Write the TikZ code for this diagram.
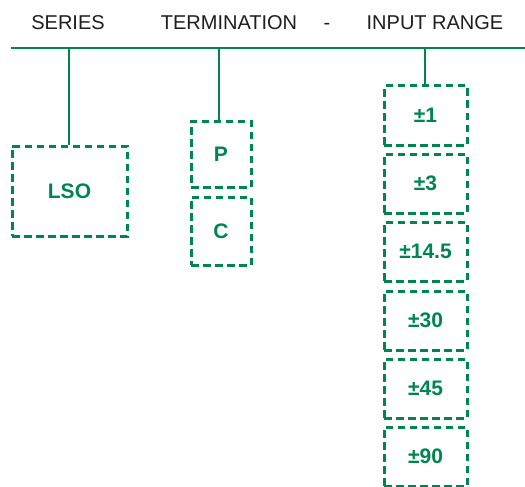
\documentclass[tikz,border=0pt]{standalone}
\usepackage{fontspec}
\setmainfont{Liberation Sans}
\definecolor{grn}{RGB}{0,133,82}
\definecolor{ink}{RGB}{30,30,30}
\begin{document}
\begin{tikzpicture}[x=1pt,y=-1pt,
  head/.style={text=ink,font=\fontsize{20}{22}\selectfont,inner sep=0pt,anchor=base},
  optbox/.style={draw=grn,line width=3pt,dash pattern=on 7.5pt off 4.5pt,text=grn,
    font=\bfseries\fontsize{21}{24}\selectfont,inner sep=0pt,minimum width=#1,rectangle},
  conn/.style={draw=grn,line width=2.6pt}]
\useasboundingbox (0,0) rectangle (525,487);
% headings
\node[head] (hs) at (68,29.5) {SERIES};
\node[head] (ht) at (229,29.5) {TERMINATION};
\node[head] (hd) at (327,29.5) {-};
\node[head] (hi) at (435,29.5) {INPUT RANGE};
% header rule
\coordinate (rl) at (11,48);
\coordinate (rr) at (525,48);
\draw[conn] (rl) -- (rr);
% series
\node[optbox=115pt,minimum height=90pt] (lso) at (69.5,191) {LSO};
% termination
\node[optbox=60pt,minimum height=66pt] (p) at (221,154) {P};
\node[optbox=60pt,minimum height=68pt] (c) at (221,231) {C};
% input range
\foreach \n/\t/\y in {r1/±1/115.5, r3/±3/183.5, r14/±14.5/251.5, r30/±30/320.5, r45/±45/388.5, r90/±90/456.5}{
  \node[optbox=83pt,minimum height=59pt] (\n) at (425.5,\y) {\t};
}
% connectors
\coordinate (c1) at (69,48);
\coordinate (c2) at (219,48);
\coordinate (c3) at (425,48);
\draw[conn] (c1) -- (c1 |- lso.north);
\draw[conn] (c2) -- (c2 |- p.north);
\draw[conn] (c3) -- (c3 |- r1.north);
\end{tikzpicture}
\end{document}
